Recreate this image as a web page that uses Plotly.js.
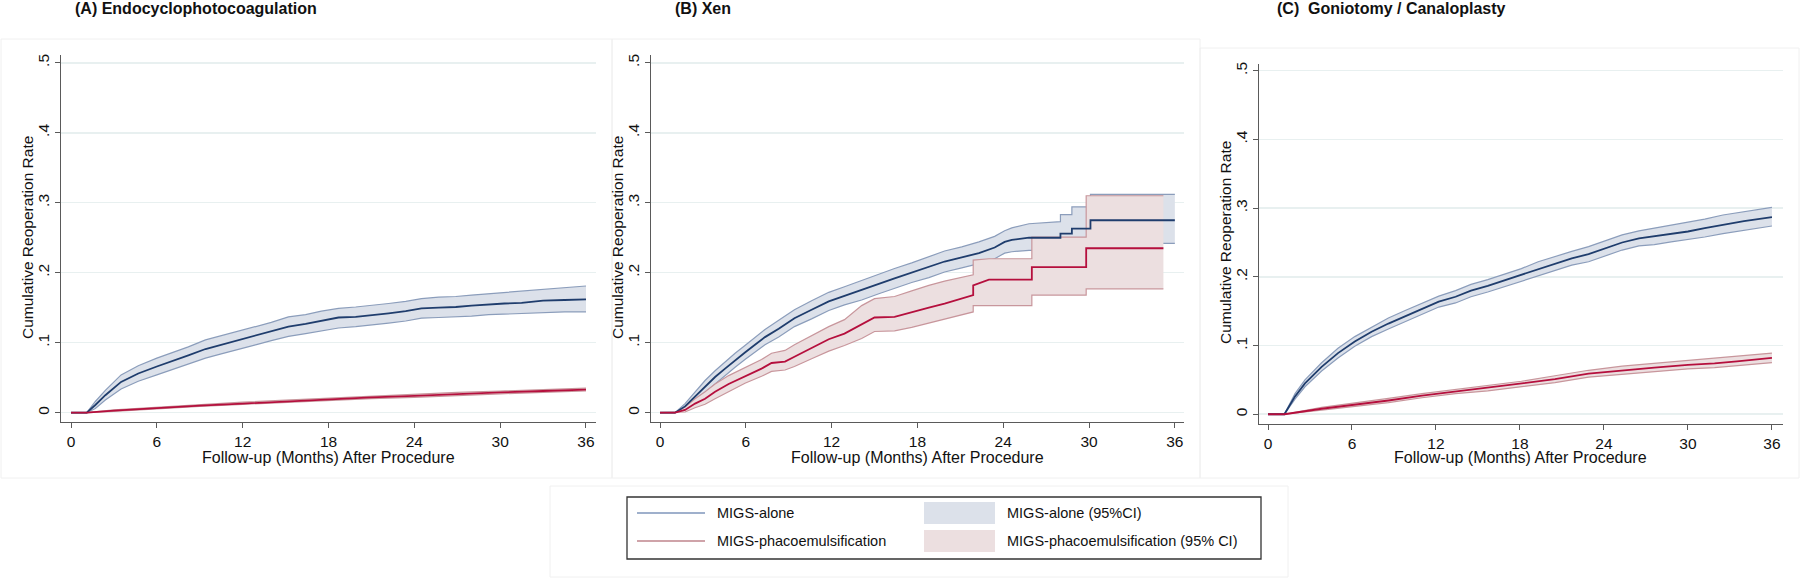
<!DOCTYPE html>
<html>
<head>
<meta charset="utf-8">
<script src="https://cdn.plot.ly/plotly-3.0.1.min.js"></script>
<style>html,body{margin:0;padding:0;background:#fff;}#chart{width:1800px;height:585px;}</style>
</head>
<body>
<div id="chart"></div>
<script>
// ---------- DATA ----------
const panelTitles = ["(A) Endocyclophotocoagulation", "(B) Xen", "(C)  Goniotomy / Canaloplasty"];
const seriesNames = ["MIGS-alone", "MIGS-phacoemulsification", "MIGS-alone (95%CI)", "MIGS-phacoemulsification (95% CI)"];
const xTicks = [0, 6, 12, 18, 24, 30, 36];
const yTicks = [0, 0.1, 0.2, 0.3, 0.4, 0.5];
const yTickText = ["0", ".1", ".2", ".3", ".4", ".5"];
const xTitle = "Follow-up (Months) After Procedure";
const yTitle = "Cumulative Reoperation Rate";

// Panel A - Endocyclophotocoagulation
const monthsA_alone = [0, 1.1, 1.7, 2.4, 3.5, 4.7, 6, 7, 8.2, 9.4, 10.5, 11.9, 12.9, 14, 15.2, 16.4, 17.5, 18.7, 19.9, 21, 22.2, 23.4, 24.5, 25.7, 26.9, 28, 29.2, 30.3, 31.5, 33, 34.5, 36];
const rateA_alone  = [0, 0, 0.011, 0.025, 0.044, 0.056, 0.066, 0.073, 0.082, 0.091, 0.097, 0.104, 0.110, 0.116, 0.123, 0.127, 0.131, 0.136, 0.137, 0.139, 0.142, 0.145, 0.149, 0.150, 0.151, 0.153, 0.155, 0.156, 0.157, 0.160, 0.161, 0.162];
const upperA_alone = [0, 0, 0.016, 0.032, 0.054, 0.067, 0.078, 0.085, 0.094, 0.104, 0.110, 0.117, 0.123, 0.129, 0.137, 0.140, 0.145, 0.149, 0.151, 0.153, 0.156, 0.159, 0.163, 0.165, 0.166, 0.168, 0.170, 0.172, 0.174, 0.177, 0.179, 0.181];
const lowerA_alone = [0, 0, 0.006, 0.018, 0.034, 0.045, 0.054, 0.061, 0.070, 0.078, 0.084, 0.091, 0.097, 0.103, 0.109, 0.113, 0.117, 0.121, 0.123, 0.125, 0.128, 0.131, 0.135, 0.136, 0.137, 0.138, 0.140, 0.141, 0.142, 0.143, 0.144, 0.144];
const monthsA_phaco = [0, 1.1, 3, 6, 9, 12, 15, 18, 21, 24, 27, 30, 33, 36];
const rateA_phaco  = [0, 0, 0.003, 0.007, 0.010, 0.013, 0.016, 0.0195, 0.022, 0.024, 0.027, 0.029, 0.031, 0.033];
const upperA_phaco = [0, 0, 0.004, 0.008, 0.011, 0.015, 0.018, 0.021, 0.024, 0.026, 0.029, 0.031, 0.033, 0.035];
const lowerA_phaco = [0, 0, 0.002, 0.006, 0.009, 0.012, 0.015, 0.018, 0.020, 0.022, 0.025, 0.027, 0.029, 0.031];

// Panel B - Xen
const monthsB_alone = [0, 1.05, 1.75, 2.45, 3.15, 3.85, 4.55, 5.25, 5.94, 6.64, 7.34, 8.3, 9.4, 10.6, 11.8, 12.9, 14.1, 15.3, 16.4, 17.6, 18.8, 19.9, 21.1, 22.3, 23.4, 24.1, 24.6, 25.8, 28.0, 28.0, 28.8, 28.8, 30.1, 30.1, 36];
const rateB_alone  = [0, 0, 0.009, 0.023, 0.038, 0.051, 0.063, 0.075, 0.086, 0.097, 0.108, 0.120, 0.135, 0.147, 0.159, 0.167, 0.175, 0.184, 0.192, 0.200, 0.208, 0.216, 0.222, 0.228, 0.236, 0.244, 0.247, 0.250, 0.250, 0.256, 0.256, 0.263, 0.263, 0.275, 0.275];
const upperB_alone = [0, 0, 0.013, 0.029, 0.046, 0.060, 0.073, 0.085, 0.096, 0.108, 0.119, 0.132, 0.147, 0.160, 0.172, 0.180, 0.189, 0.198, 0.206, 0.214, 0.223, 0.231, 0.237, 0.244, 0.252, 0.260, 0.264, 0.270, 0.273, 0.283, 0.283, 0.294, 0.294, 0.312, 0.312];
const lowerB_alone = [0, 0, 0.005, 0.017, 0.030, 0.042, 0.053, 0.065, 0.076, 0.086, 0.097, 0.108, 0.123, 0.134, 0.146, 0.154, 0.161, 0.170, 0.178, 0.186, 0.193, 0.201, 0.207, 0.213, 0.220, 0.228, 0.230, 0.232, 0.232, 0.234, 0.234, 0.236, 0.236, 0.242, 0.242];
const monthsB_phaco = [0, 1.05, 1.75, 2.45, 3.15, 3.85, 4.8, 5.94, 7.1, 7.8, 8.74, 9.4, 10.6, 11.8, 12.9, 14.1, 15.0, 16.4, 17.6, 18.8, 19.9, 21.1, 21.9, 21.9, 23.0, 26.0, 26.0, 29.8, 29.8, 35.2];
const rateB_phaco  = [0, 0, 0.004, 0.013, 0.020, 0.030, 0.041, 0.052, 0.063, 0.071, 0.073, 0.080, 0.092, 0.105, 0.113, 0.126, 0.136, 0.137, 0.144, 0.150, 0.156, 0.163, 0.168, 0.182, 0.190, 0.190, 0.208, 0.208, 0.235, 0.235];
const upperB_phaco = [0, 0, 0.008, 0.020, 0.030, 0.041, 0.053, 0.064, 0.076, 0.085, 0.089, 0.097, 0.110, 0.123, 0.133, 0.153, 0.163, 0.166, 0.174, 0.182, 0.188, 0.194, 0.197, 0.218, 0.220, 0.220, 0.251, 0.251, 0.310, 0.310];
const lowerB_phaco = [0, 0, 0.001, 0.007, 0.012, 0.020, 0.030, 0.042, 0.052, 0.059, 0.061, 0.066, 0.077, 0.088, 0.096, 0.106, 0.116, 0.117, 0.122, 0.128, 0.134, 0.140, 0.144, 0.153, 0.153, 0.153, 0.168, 0.168, 0.177, 0.177];

// Panel C - Goniotomy / Canaloplasty
const monthsC_alone = [0, 1.17, 1.93, 2.64, 3.83, 5.0, 6.2, 7.4, 8.6, 9.8, 11.0, 12.2, 13.4, 14.5, 15.7, 16.9, 18.1, 19.3, 20.5, 21.7, 22.9, 24.1, 25.3, 26.5, 27.6, 28.8, 30.0, 31.2, 32.5, 34, 36];
const rateC_alone  = [0, 0, 0.026, 0.045, 0.069, 0.089, 0.106, 0.120, 0.132, 0.143, 0.154, 0.164, 0.171, 0.180, 0.187, 0.195, 0.203, 0.212, 0.220, 0.227, 0.233, 0.242, 0.250, 0.256, 0.259, 0.263, 0.266, 0.271, 0.276, 0.281, 0.287];
const upperC_alone = [0, 0, 0.030, 0.050, 0.075, 0.096, 0.113, 0.127, 0.140, 0.151, 0.162, 0.172, 0.180, 0.189, 0.196, 0.204, 0.212, 0.222, 0.230, 0.237, 0.244, 0.253, 0.261, 0.267, 0.271, 0.275, 0.279, 0.284, 0.290, 0.295, 0.301];
const lowerC_alone = [0, 0, 0.022, 0.040, 0.063, 0.082, 0.099, 0.113, 0.124, 0.135, 0.146, 0.156, 0.162, 0.171, 0.178, 0.186, 0.194, 0.202, 0.210, 0.217, 0.222, 0.231, 0.239, 0.245, 0.247, 0.251, 0.254, 0.258, 0.263, 0.268, 0.274];
const monthsC_phaco = [0, 1.17, 3.83, 6.2, 8.6, 11.0, 13.4, 15.7, 18.1, 20.5, 22.9, 25.3, 27.6, 30.0, 31.9, 33.5, 36];
const rateC_phaco  = [0, 0, 0.008, 0.0135, 0.020, 0.027, 0.033, 0.038, 0.044, 0.051, 0.059, 0.064, 0.068, 0.072, 0.074, 0.077, 0.082];
const upperC_phaco = [0, 0, 0.010, 0.016, 0.023, 0.030, 0.036, 0.042, 0.048, 0.056, 0.064, 0.070, 0.074, 0.078, 0.081, 0.084, 0.089];
const lowerC_phaco = [0, 0, 0.006, 0.011, 0.017, 0.024, 0.030, 0.034, 0.040, 0.046, 0.054, 0.058, 0.062, 0.066, 0.068, 0.071, 0.075];

// ---------- STYLE ----------
const W = 1800, H = 585;
const FONT = "Liberation Sans, Arial, Helvetica, sans-serif";
const C = {
  blueLine: "#1f3d6d", blueEdge: "#8b9dbb", blueFill: "#dce1ea", blueKey: "#9fb0cc",
  redLine: "#b50f3d", redEdge: "#c8969c", redFill: "#ecdfe0", redKey: "#cfa3a9",
  axis: "#5a5a5a", grid: "#e8f0f0", faint: "#f0f0f0"
};
const px = v => v / W;
const py = v => 1 - v / H;

const panels = [
  {xa: "x", ya: "y",
   alone: [monthsA_alone, rateA_alone, lowerA_alone, upperA_alone],
   phaco: [monthsA_phaco, rateA_phaco, lowerA_phaco, upperA_phaco]},
  {xa: "x2", ya: "y2",
   alone: [monthsB_alone, rateB_alone, lowerB_alone, upperB_alone],
   phaco: [monthsB_phaco, rateB_phaco, lowerB_phaco, upperB_phaco]},
  {xa: "x3", ya: "y3",
   alone: [monthsC_alone, rateC_alone, lowerC_alone, upperC_alone],
   phaco: [monthsC_phaco, rateC_phaco, lowerC_phaco, upperC_phaco]}
];

const traces = [];
panels.forEach(p => {
  const band = (d, edge, fill, name) => {
    traces.push({x: d[0], y: d[2], xaxis: p.xa, yaxis: p.ya, type: "scatter", mode: "lines",
      line: {color: edge, width: 1.2}, hoverinfo: "skip", name: name, showlegend: false});
    traces.push({x: d[0], y: d[3], xaxis: p.xa, yaxis: p.ya, type: "scatter", mode: "lines",
      line: {color: edge, width: 1.2}, fill: "tonexty", fillcolor: fill, name: name, showlegend: false});
  };
  band(p.alone, C.blueEdge, C.blueFill, seriesNames[2]);
  band(p.phaco, C.redEdge, C.redFill, seriesNames[3]);
  traces.push({x: p.alone[0], y: p.alone[1], xaxis: p.xa, yaxis: p.ya, type: "scatter", mode: "lines",
    line: {color: C.blueLine, width: 1.8}, name: seriesNames[0], showlegend: false});
  traces.push({x: p.phaco[0], y: p.phaco[1], xaxis: p.xa, yaxis: p.ya, type: "scatter", mode: "lines",
    line: {color: C.redLine, width: 1.8}, name: seriesNames[1], showlegend: false});
});

const xaxisBase = {
  tickvals: xTicks, ticks: "outside", ticklen: 5, tickwidth: 1, tickcolor: C.axis,
  showline: true, linecolor: C.axis, linewidth: 1.3, showgrid: false, zeroline: false,
  tickfont: {size: 15.5, color: "#111", family: FONT}, fixedrange: true
};
const yaxisBase = {
  tickvals: yTicks, ticktext: yTickText, tickangle: -90, ticks: "outside", ticklen: 5, tickwidth: 1,
  tickcolor: C.axis, showline: true, linecolor: C.axis, linewidth: 1.3, showgrid: true,
  gridcolor: C.grid, gridwidth: 1.5, zeroline: false,
  tickfont: {size: 15.5, color: "#111", family: FONT}, fixedrange: true
};

// plot-area pixel geometry for the three panels
const geo = [
  {l: 61, r: 596, t: 55, b: 422, xr: [-0.7, 36.7], yr: [-0.0133, 0.5111]},
  {l: 651, r: 1184, t: 55, b: 422, xr: [-0.63, 36.64], yr: [-0.0133, 0.5111]},
  {l: 1259, r: 1783, t: 63.6, b: 424, xr: [-0.643, 36.79], yr: [-0.0142, 0.5104]}
];

const layout = {
  width: W, height: H, margin: {l: 0, r: 0, t: 0, b: 0},
  paper_bgcolor: "#ffffff", plot_bgcolor: "rgba(0,0,0,0)",
  showlegend: false, font: {family: FONT, color: "#111"},
  annotations: [], shapes: []
};
geo.forEach((g, i) => {
  const s = i === 0 ? "" : String(i + 1);
  layout["xaxis" + s] = Object.assign({}, xaxisBase, {
    domain: [px(g.l), px(g.r)], range: g.xr, anchor: "y" + s});
  layout["yaxis" + s] = Object.assign({}, yaxisBase, {
    domain: [py(g.b), py(g.t)], range: g.yr, anchor: "x" + s});
});

// faint panel frames (graph regions)
const frames = [[1, 39, 612, 478], [612, 39, 1200, 478], [1200, 48, 1799, 478], [550, 486, 1288, 577]];
frames.forEach(f => layout.shapes.push({type: "rect", xref: "paper", yref: "paper",
  x0: px(f[0]), x1: px(f[2]), y0: py(f[3]), y1: py(f[1]),
  line: {color: C.faint, width: 1}, fillcolor: "rgba(0,0,0,0)", layer: "below"}));

// panel titles, axis titles
const titleX = [73, 673, 1275];
const xTitleCx = [328.5, 917.5, 1520];
const yTitleCx = [27, 617, 1225];
const yTitleCy = [238, 238, 243];
for (let i = 0; i < 3; i++) {
  layout.annotations.push({text: "<b>" + panelTitles[i] + "</b>", xref: "paper", yref: "paper",
    x: px(titleX[i]), y: py(9), xanchor: "left", yanchor: "middle", showarrow: false,
    font: {size: 16, family: FONT, color: "#111"}});
  layout.annotations.push({text: xTitle, xref: "paper", yref: "paper",
    x: px(xTitleCx[i]), y: py(457), xanchor: "center", yanchor: "middle", showarrow: false,
    font: {size: 16, family: FONT, color: "#111"}});
  layout.annotations.push({text: yTitle, xref: "paper", yref: "paper", textangle: -90,
    x: px(yTitleCx[i]), y: py(yTitleCy[i]), xanchor: "center", yanchor: "middle", showarrow: false,
    font: {size: 15.5, family: FONT, color: "#111"}});
}

// legend (drawn as key shapes + text)
layout.shapes.push({type: "rect", xref: "paper", yref: "paper", x0: px(627), x1: px(1261), y0: py(559), y1: py(497),
  line: {color: "#333", width: 1.3}, fillcolor: "#ffffff", layer: "below"});
const keyRows = [513, 541];
layout.shapes.push({type: "line", xref: "paper", yref: "paper", x0: px(637), x1: px(705), y0: py(keyRows[0]), y1: py(keyRows[0]), line: {color: C.blueKey, width: 2}});
layout.shapes.push({type: "line", xref: "paper", yref: "paper", x0: px(637), x1: px(705), y0: py(keyRows[1]), y1: py(keyRows[1]), line: {color: C.redKey, width: 2}});
layout.shapes.push({type: "rect", xref: "paper", yref: "paper", x0: px(924), x1: px(995), y0: py(keyRows[0] + 11), y1: py(keyRows[0] - 11), line: {width: 0}, fillcolor: C.blueFill});
layout.shapes.push({type: "rect", xref: "paper", yref: "paper", x0: px(924), x1: px(995), y0: py(keyRows[1] + 11), y1: py(keyRows[1] - 11), line: {width: 0}, fillcolor: C.redFill});
const legTexts = [[seriesNames[0], 715, keyRows[0]], [seriesNames[1], 715, keyRows[1]],
                  [seriesNames[2], 1005, keyRows[0]], [seriesNames[3], 1005, keyRows[1]]];
legTexts.forEach(t => layout.annotations.push({text: t[0], xref: "paper", yref: "paper",
  x: px(t[1]), y: py(t[2]), xanchor: "left", yanchor: "middle", showarrow: false,
  font: {size: 14.5, family: FONT, color: "#111"}}));

Plotly.newPlot("chart", traces, layout, {displayModeBar: false, staticPlot: true});
</script>
</body>
</html>
